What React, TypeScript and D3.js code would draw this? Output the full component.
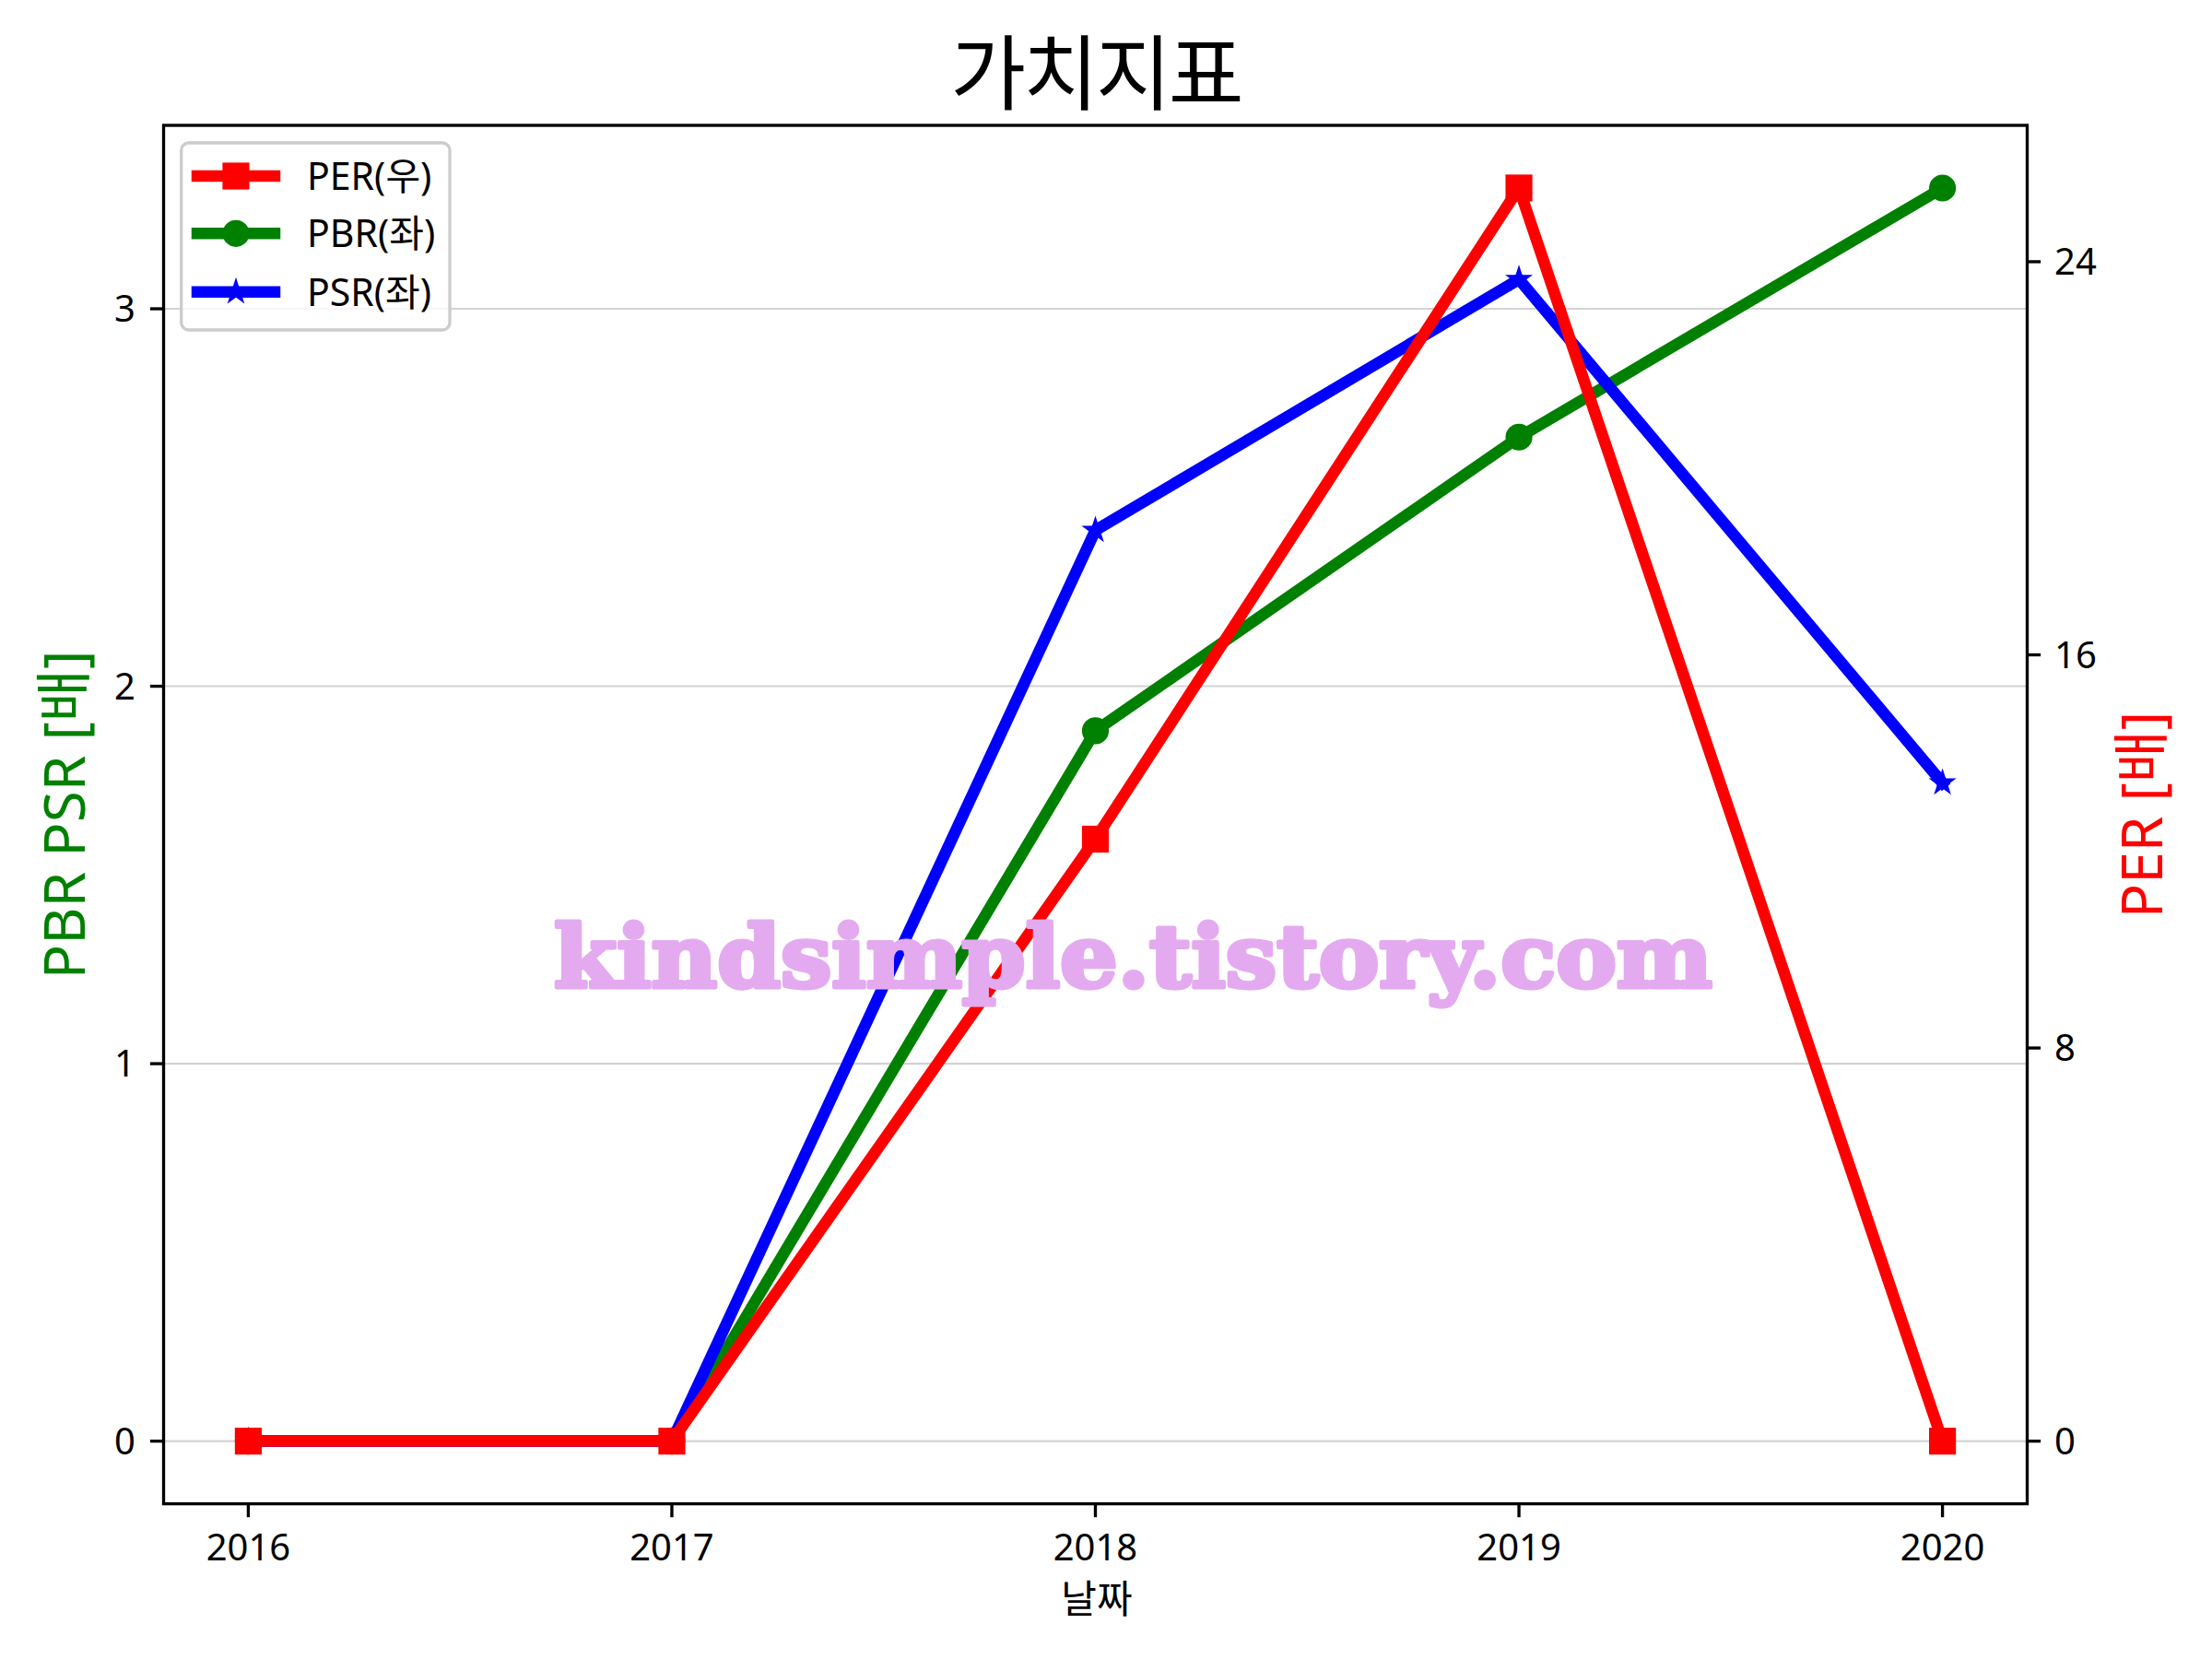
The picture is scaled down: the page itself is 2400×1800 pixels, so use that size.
import React from "react";
import * as d3 from "d3";

const years = [2016, 2017, 2018, 2019, 2020];
const perValues = [0, 0, 12.25, 25.5, 0];
const pbrValues = [0, 0, 1.882, 2.66, 3.32];
const psrValues = [0, 0, 2.413, 3.078, 1.744];
const leftTicks = [0, 1, 2, 3];
const rightTicks = [0, 8, 16, 24];
const legendLabels = ["PER(우)", "PBR(좌)", "PSR(좌)"];

const W = 2400, H = 1800;
const L = 177.5, R = 2199.5, T = 136, B = 1631.6;
const FONT = "'Noto Sans', 'Noto Sans CJK KR', sans-serif";
const KFONT = "'Noto Sans CJK KR', 'Noto Sans', sans-serif";

function padDomain(vals: number[]): [number, number] {
  const lo = d3.min(vals) as number, hi = d3.max(vals) as number;
  const m = (hi - lo) * 0.05;
  return [lo - m, hi + m];
}

const x = d3.scaleLinear().domain(padDomain(years)).range([L, R]);
const yL = d3.scaleLinear().domain(padDomain([...pbrValues, ...psrValues])).range([B, T]);
const yR = d3.scaleLinear().domain(padDomain(perValues)).range([B, T]);

const LW = 12.5;
const MS = 25;
const MEW = 4.17;

function starPath(r: number) {
  const pts: string[] = [];
  for (let i = 0; i < 10; i++) {
    const rad = i % 2 === 0 ? r : r * 0.381966;
    const a = (Math.PI / 5) * i - Math.PI / 2;
    pts.push(`${(rad * Math.cos(a)).toFixed(2)},${(rad * Math.sin(a)).toFixed(2)}`);
  }
  return "M" + pts.join("L") + "Z";
}

function Marker({ kind, cx, cy, color }: { kind: string; cx: number; cy: number; color: string }) {
  if (kind === "s") {
    return <rect x={cx - MS / 2} y={cy - MS / 2} width={MS} height={MS} fill={color} stroke={color} strokeWidth={MEW} strokeLinejoin="miter" />;
  }
  if (kind === "o") {
    return <circle cx={cx} cy={cy} r={MS / 2} fill={color} stroke={color} strokeWidth={MEW} />;
  }
  return <path d={starPath(11)} transform={`translate(${cx},${cy})`} fill={color} stroke={color} strokeWidth={3} strokeLinejoin="miter" />;
}

function Series({ vals, scale, color, kind }: { vals: number[]; scale: d3.ScaleLinear<number, number>; color: string; kind: string }) {
  const line = d3.line<number>().x((_, i) => x(years[i])).y((v) => scale(v));
  return (
    <g>
      <path d={line(vals) || ""} fill="none" stroke={color} strokeWidth={LW} strokeLinejoin="round" strokeLinecap="square" />
      {vals.map((v, i) => (
        <Marker key={i} kind={kind} cx={x(years[i])} cy={scale(v)} color={color} />
      ))}
    </g>
  );
}

export default function App() {
  const legendItems = [
    { label: legendLabels[0], color: "#ff0000", kind: "s" },
    { label: legendLabels[1], color: "#008000", kind: "o" },
    { label: legendLabels[2], color: "#0000ff", kind: "*" },
  ];
  const rowY = [191, 253.3, 316.7];
  return (
    <svg width={W} height={H} style={{ position: "absolute", left: 0, top: 0, display: "block" }} xmlns="http://www.w3.org/2000/svg">
      <rect x={0} y={0} width={W} height={H} fill="#ffffff" />
      <defs>
        <clipPath id="plotclip">
          <rect x={L} y={T} width={R - L} height={B - T} />
        </clipPath>
      </defs>
      {leftTicks.map((t) => (
        <line key={t} x1={L} x2={R} y1={yL(t)} y2={yL(t)} stroke="#d3d3d3" strokeWidth={2.1} />
      ))}
      <g clipPath="url(#plotclip)">
        <Series vals={pbrValues} scale={yL} color="#008000" kind="o" />
        <Series vals={psrValues} scale={yL} color="#0000ff" kind="*" />
        <Series vals={perValues} scale={yR} color="#ff0000" kind="s" />
      </g>
      <rect x={L} y={T} width={R - L} height={B - T} fill="none" stroke="#000" strokeWidth={3.33} />
      {years.map((yr) => (
        <g key={yr}>
          <line x1={x(yr)} x2={x(yr)} y1={B} y2={B + 14.6} stroke="#000" strokeWidth={3.33} />
          <text x={x(yr)} y={1693} textAnchor="middle" fontFamily={FONT} fontSize={40} fill="#000">{yr}</text>
        </g>
      ))}
      {leftTicks.map((t) => (
        <g key={t}>
          <line x1={L - 14.6} x2={L} y1={yL(t)} y2={yL(t)} stroke="#000" strokeWidth={3.33} />
          <text x={147} y={yL(t) + 14} textAnchor="end" fontFamily={FONT} fontSize={40} fill="#000">{t}</text>
        </g>
      ))}
      {rightTicks.map((t) => (
        <g key={t}>
          <line x1={R} x2={R + 14.6} y1={yR(t)} y2={yR(t)} stroke="#000" strokeWidth={3.33} />
          <text x={2229} y={yR(t) + 14} textAnchor="start" fontFamily={FONT} fontSize={40} fill="#000">{t}</text>
        </g>
      ))}
      <text x={1190} y={1750} textAnchor="middle" fontFamily={KFONT} fontSize={42} fill="#000">날짜</text>
      <text transform={`translate(91.7,884) rotate(-90)`} textAnchor="middle" fontFamily={FONT} fontSize={62} fill="#008000">PBR PSR [배]</text>
      <text transform={`translate(2346,884) rotate(-90)`} textAnchor="middle" fontFamily={FONT} fontSize={62} fill="#ff0000">PER [배]</text>
      <text x={1189} y={112} textAnchor="middle" fontFamily={KFONT} fontSize={89} letterSpacing={-3} fill="#000">가치지표</text>
      <text x={601} y={1071} fontFamily="'DejaVu Serif', serif" fontWeight="bold" fontSize={94} textLength={1257} lengthAdjust="spacingAndGlyphs" fill="#e4aaf0" stroke="#e4aaf0" strokeWidth={5} strokeLinejoin="round">kindsimple.tistory.com</text>
      <rect x={196.7} y={155} width={291.3} height={203} rx={8} ry={8} fill="#ffffff" fillOpacity={0.8} stroke="#cccccc" strokeWidth={3.33} />
      {legendItems.map((it, i) => (
        <g key={it.label}>
          <line x1={214} x2={298} y1={rowY[i]} y2={rowY[i]} stroke={it.color} strokeWidth={LW} strokeLinecap="square" />
          <Marker kind={it.kind} cx={256} cy={rowY[i]} color={it.color} />
          <text x={333} y={rowY[i] + 15} fontFamily={FONT} fontSize={41} fill="#000">{it.label}</text>
        </g>
      ))}
    </svg>
  );
}
